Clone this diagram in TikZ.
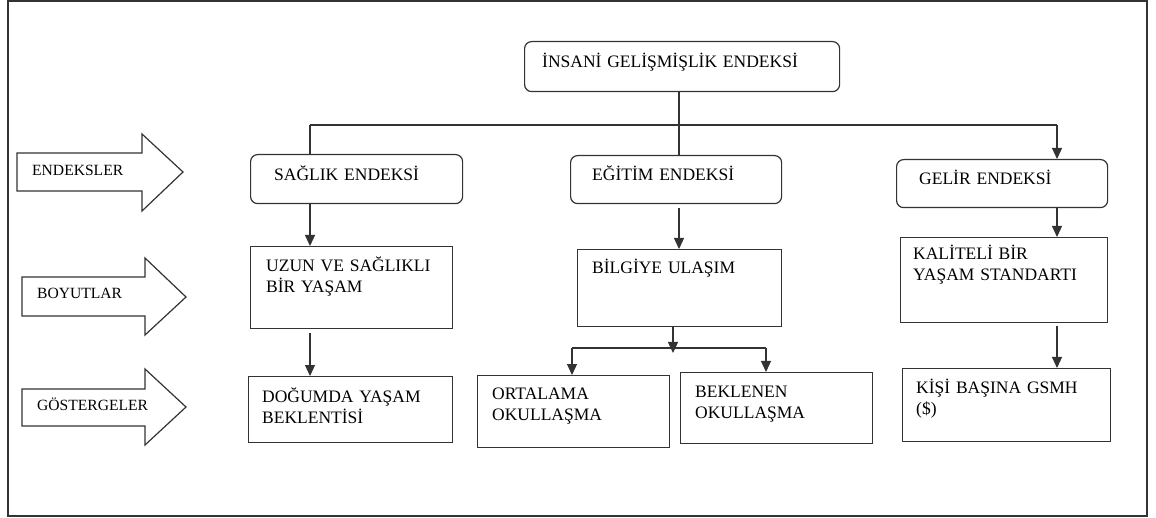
\documentclass[tikz,border=0pt]{standalone}
\usepackage{fontspec}
\setmainfont{Liberation Serif}
\usetikzlibrary{arrows.meta}
\definecolor{ln}{HTML}{333333}
\begin{document}
\begin{tikzpicture}[x=1pt,y=-1pt,
  box/.style={draw=ln,line width=1.2pt,rectangle,inner sep=0pt},
  rbox/.style={box,rounded corners=7pt},
  blockarr/.style={draw=ln,line width=1.2pt,fill=white},
  link/.style={draw=ln,line width=1.2pt},
  arr/.style={link,-{Triangle[length=11pt,width=10pt]}},
  txt/.style={font=\fontsize{17.5}{21}\selectfont,align=left,text width=300pt,inner sep=0pt,anchor=base west},
  side/.style={font=\fontsize{15.6}{19}\selectfont,inner sep=0pt,anchor=base west}]
\useasboundingbox (0,0) rectangle (1156,518);
\draw[draw=ln,line width=1.8pt] (8,1) rectangle (1147,516);

% boxes
\node[rbox,minimum width=315pt,minimum height=50pt,anchor=north west] (top) at (524,41) {};
\node[rbox,minimum width=212pt,minimum height=49pt,anchor=north west] (sag) at (250,154) {};
\node[rbox,minimum width=211pt,minimum height=48pt,anchor=north west] (egi) at (570,155) {};
\node[rbox,minimum width=211pt,minimum height=48pt,anchor=north west] (gel) at (896,159) {};
\node[box,minimum width=202pt,minimum height=82pt,anchor=north west] (uzu) at (250,246) {};
\node[box,minimum width=204pt,minimum height=77pt,anchor=north west] (bil) at (577,249) {};
\node[box,minimum width=207pt,minimum height=85pt,anchor=north west] (kal) at (900,237) {};
\node[box,minimum width=204pt,minimum height=66pt,anchor=north west] (dog) at (248,376) {};
\node[box,minimum width=192pt,minimum height=72pt,anchor=north west] (ort) at (477,375) {};
\node[box,minimum width=192pt,minimum height=71pt,anchor=north west] (bek) at (680,372) {};
\node[box,minimum width=208pt,minimum height=73pt,anchor=north west] (kis) at (902,368) {};

% texts
\node[txt] (ttop) at (542,68) {İNSANİ GELİŞMİŞLİK ENDEKSİ};
\node[txt] (tsag) at (274,181) {SAĞLIK ENDEKSİ};
\node[txt] (tegi) at (592,181) {EĞİTİM ENDEKSİ};
\node[txt] (tgel) at (919,185) {GELİR ENDEKSİ};
\node[txt] (tuzu) at (266,272) {UZUN VE SAĞLIKLI\\BİR YAŞAM};
\node[txt] (tbil) at (592,274) {BİLGİYE ULAŞIM};
\node[txt] (tkal) at (913,260) {KALİTELİ BİR\\YAŞAM STANDARTI};
\node[txt] (tdog) at (262,402) {DOĞUMDA YAŞAM\\BEKLENTİSİ};
\node[txt] (tort) at (492,399) {ORTALAMA\\OKULLAŞMA};
\node[txt] (tbek) at (695,397) {BEKLENEN\\OKULLAŞMA};
\node[txt] (tkis) at (916,393) {KİŞİ BAŞINA GSMH\\(\$)};

% block arrows
\draw[blockarr] (17,153) -- (142,153) -- (142,134) -- (183,172) -- (142,211) -- (142,191) -- (17,191) -- cycle;
\draw[blockarr] (22,277) -- (145,277) -- (145,258) -- (186,297) -- (145,335) -- (145,316) -- (22,316) -- cycle;
\draw[blockarr] (22,389) -- (145,389) -- (145,369) -- (186,407) -- (145,445) -- (145,426) -- (22,426) -- cycle;
\node[side] (lend) at (32,176) {ENDEKSLER};
\node[side] (lboy) at (37,299) {BOYUTLAR};
\node[side] (lgos) at (37,410) {GÖSTERGELER};

% connectors
\coordinate (busL) at (310,125);
\coordinate (busM) at (679,125);
\coordinate (busR) at (1057,125);
\draw[link] (busL) -- (busR);
\draw[link] (top.south -| busM) -- (busM |- egi.north);
\draw[link] (busL) -- (busL |- sag.north);
\draw[arr] (busR) -- (busR |- gel.north);

\draw[arr] (sag.south -| busL) -- (uzu.north -| busL);
\draw[arr] (uzu.south -| busL) ++(0,4) -- (dog.north -| busL);
\draw[arr] (egi.south -| busM) ++(0,4) -- (bil.north -| busM);
\draw[arr] (gel.south -| busR) -- (kal.north -| busR);
\draw[arr] (kal.south -| busR) ++(0,3) -- (kis.north -| busR);

\coordinate (split) at (673,353);
\coordinate (b2L) at (572,348);
\coordinate (b2R) at (766,348);
\draw[link] (b2L) -- (b2R);
\draw[arr] (bil.south -| split) -- (split);
\draw[arr] (b2L) -- (b2L |- ort.north);
\draw[arr] (b2R) -- (b2R |- bek.north);
\end{tikzpicture}
\end{document}
